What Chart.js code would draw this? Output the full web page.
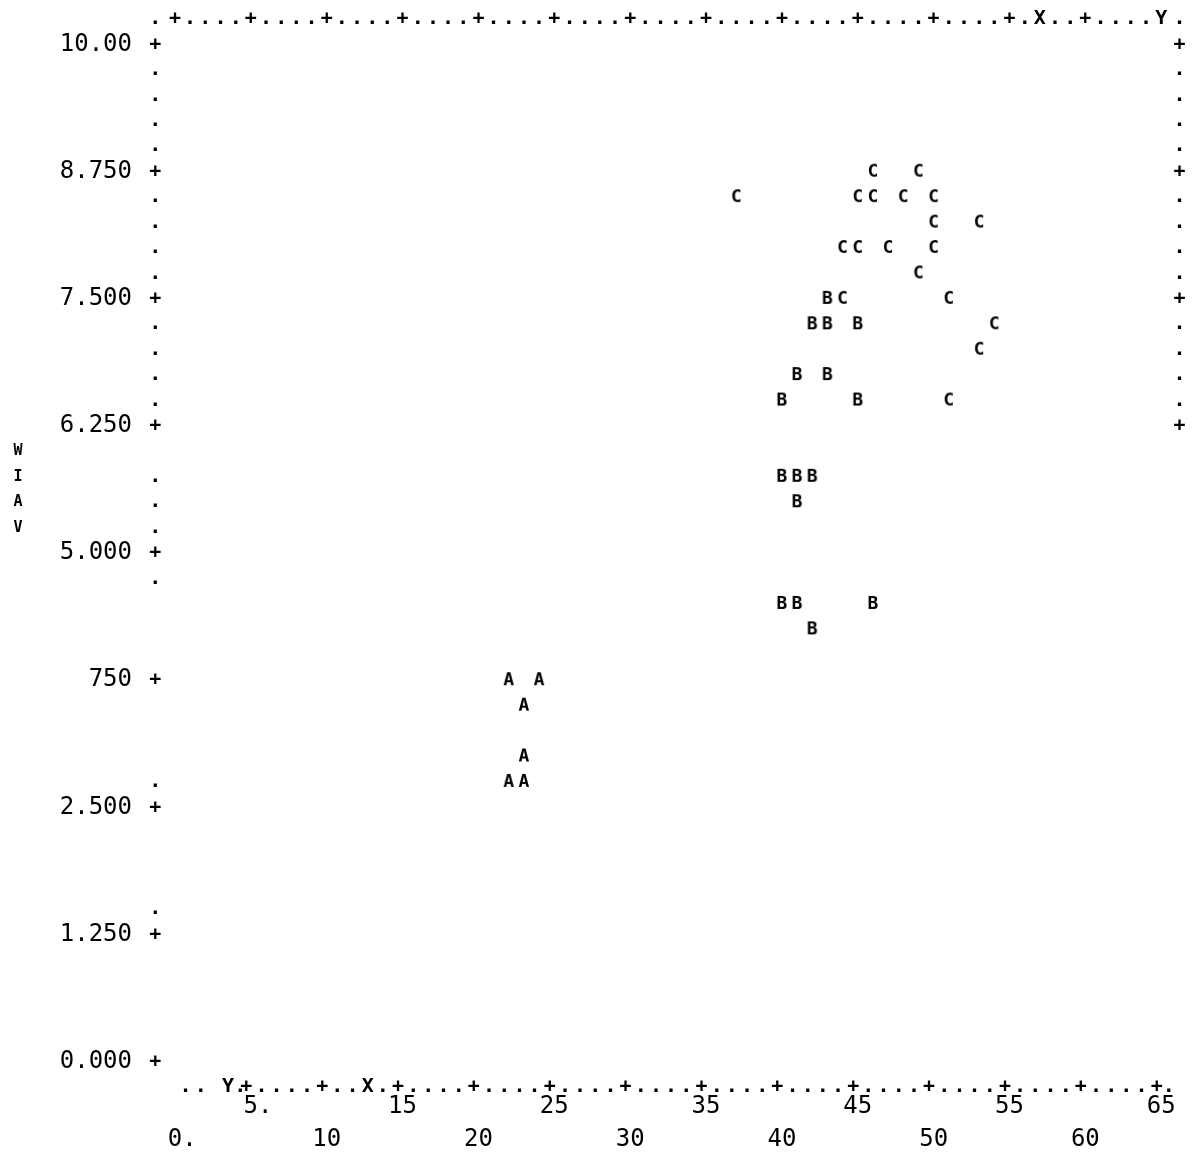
<!DOCTYPE html>
<html>
<head>
<meta charset="utf-8">
<script src="https://cdn.jsdelivr.net/npm/chart.js@4/dist/chart.umd.min.js"></script>
<style>
  html, body { margin: 0; padding: 0; background: #fff; }
  #wrap { width: 1196px; height: 1155px; position: relative; }
</style>
</head>
<body>
<div id="wrap"><canvas id="myChart"></canvas></div>
<script>
// group A / B / C points (column, row)
const groupA_x = [22, 24, 23, 23, 22, 23];
const groupA_y = [3.75, 3.75, 3.5, 3.0, 2.75, 2.75];

const groupB_x = [43, 42, 43, 45, 41, 43, 40, 45, 40, 41, 42, 41, 40, 41, 46, 42];
const groupB_y = [7.5, 7.25, 7.25, 7.25, 6.75, 6.75, 6.5, 6.5, 5.75, 5.75, 5.75, 5.5, 4.5, 4.5, 4.5, 4.25];

const groupC_x = [46, 49, 37, 45, 46, 48, 50, 50, 53, 44, 45, 47, 50, 49, 44, 51, 54, 53, 51];
const groupC_y = [8.75, 8.75, 8.5, 8.5, 8.5, 8.5, 8.5, 8.25, 8.25, 8, 8, 8, 8, 7.75, 7.5, 7.5, 7.25, 7, 6.5];

const yTicks = [0, 1.25, 2.5, 3.75, 5, 6.25, 7.5, 8.75, 10];
const yTickLabels = ["0.000", "1.250", "2.500", "750", "5.000", "6.250", "7.500", "8.750", "10.00"];

const xTicks = [0, 5, 10, 15, 20, 25, 30, 35, 40, 45, 50, 55, 60, 65];
const xTickLabels = ["0.", "5.", "10", "15", "20", "25", "30", "35", "40", "45", "50", "55", "60", "65"];

const yAxisLetters = ["W", "I", "A", "V"];
const yAxisLetterRows = [6.0, 5.75, 5.5, 5.25];

const MONO = '"DejaVu Sans Mono", "Liberation Mono", monospace';

function letterImage(ch) {
    const c = document.createElement("canvas");
    c.width = 20;
    c.height = 24;
    const g = c.getContext("2d");
    g.font = "bold 18px " + MONO;
    g.fillStyle = "#000";
    g.textAlign = "center";
    g.textBaseline = "middle";
    g.fillText(ch, 10, 12);
    return c;
}

function points(xs, ys) {
    return xs.map((x, i) => ({ x: x, y: ys[i] }));
}

// the character frame of the line printer plot
const printerFrame = {
    id: "printerFrame",
    beforeDatasetsDraw(chart) {
        const ctx = chart.ctx;
        const sx = chart.scales.x;
        const sy = chart.scales.y;
        const put = (ch, x, y) => ctx.fillText(ch, sx.getPixelForValue(x), sy.getPixelForValue(y));
        ctx.save();
        ctx.font = "bold 20px " + MONO;
        ctx.fillStyle = "#000";
        ctx.textAlign = "center";
        ctx.textBaseline = "middle";

        // top row
        put(".", -1.3, 10.25);
        for (let c = 0; c <= 64; c++) {
            let ch = c % 5 === 0 ? "+" : ".";
            if (c === 57) ch = "X";
            put(ch, c, 10.25);
        }
        put("Y", 65, 10.25);
        put(".", 66.2, 10.25);

        // bottom row
        put(".", 0.7, -0.25);
        put(".", 1.7, -0.25);
        put("Y", 3.5, -0.25);
        put(".", 4.3, -0.25);
        for (let c = 5; c <= 65; c++) {
            let ch = c % 5 === 0 ? "+" : ".";
            if (c === 13) ch = "X";
            put(ch, c - 0.3, -0.25);
        }
        put(".", 65.5, -0.25);

        // left column
        const leftDots = [9.75, 9.5, 9.25, 9, 8.5, 8.25, 8, 7.75, 7.25, 7, 6.75, 6.5, 5.75, 5.5, 5.25, 4.75, 2.75, 1.5];
        yTicks.forEach(v => put("+", -1.3, v));
        leftDots.forEach(v => put(".", -1.3, v));

        // right column
        const rightPlus = [10, 8.75, 7.5, 6.25];
        const rightDots = [9.75, 9.5, 9.25, 9, 8.5, 8.25, 8, 7.75, 7.25, 7, 6.75, 6.5];
        rightPlus.forEach(v => put("+", 66.2, v));
        rightDots.forEach(v => put(".", 66.2, v));

        // vertical axis name
        ctx.font = "bold 15px " + MONO;
        yAxisLetters.forEach((ch, i) => {
            ctx.fillText(ch, 18, sy.getPixelForValue(yAxisLetterRows[i]));
        });
        ctx.restore();
    }
};

const ctx = document.getElementById("myChart");

let data = {
    datasets: [
        { label: "A", data: points(groupA_x, groupA_y), pointStyle: letterImage("A") },
        { label: "B", data: points(groupB_x, groupB_y), pointStyle: letterImage("B") },
        { label: "C", data: points(groupC_x, groupC_y), pointStyle: letterImage("C") }
    ]
};

let config = {
    type: "scatter",
    data: data,
    options: {
        responsive: true,
        maintainAspectRatio: false,
        animation: false,
        layout: { padding: { top: 9, right: 12, left: 0, bottom: 0 } },
        elements: { point: { radius: 3, hoverRadius: 3 } },
        plugins: {
            legend: { display: false },
            tooltip: { enabled: false }
        },
        scales: {
            x: {
                type: "linear",
                min: -1.25,
                max: 66.5,
                grid: { display: false, drawTicks: false },
                border: { display: false },
                afterBuildTicks: (scale) => { scale.ticks = xTicks.map(v => ({ value: v })); },
                afterFit: (scale) => {
                    scale.height = 68;
                    scale.paddingLeft = 0;
                    scale.paddingRight = 0;
                },
                ticks: {
                    autoSkip: false,
                    maxRotation: 0,
                    padding: 3,
                    color: "#000",
                    font: { family: MONO, size: 24, lineHeight: 1.375 },
                    callback: (value) => {
                        const i = xTicks.indexOf(value);
                        if (i < 0) return "";
                        let s = xTickLabels[i];
                        if (s.endsWith(".")) s = " " + s;
                        return value % 10 === 0 ? ["", s] : s;
                    }
                }
            },
            y: {
                type: "linear",
                min: -0.25,
                max: 10.35,
                grid: { display: false, drawTicks: false },
                border: { display: false },
                afterBuildTicks: (scale) => { scale.ticks = yTicks.map(v => ({ value: v })); },
                afterFit: (scale) => {
                    scale.width = 156;
                    scale.paddingTop = 0;
                    scale.paddingBottom = 0;
                },
                ticks: {
                    autoSkip: false,
                    padding: 24,
                    color: "#000",
                    font: { family: MONO, size: 24 },
                    callback: (value) => {
                        const i = yTicks.indexOf(value);
                        return i < 0 ? "" : yTickLabels[i];
                    }
                }
            }
        }
    },
    plugins: [printerFrame]
};

let myChart = new Chart(ctx, config);
</script>
</body>
</html>
